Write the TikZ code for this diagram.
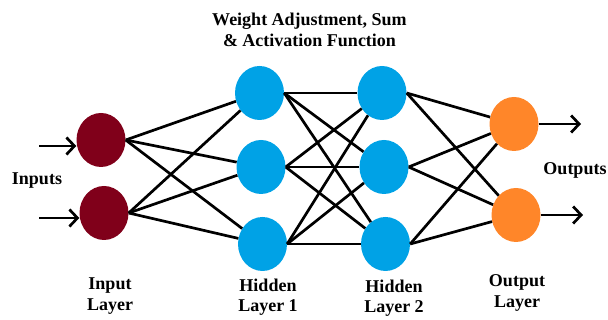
\documentclass[tikz,border=0pt]{standalone}
\usepackage{fontspec}
\setmainfont{Liberation Serif}
\usetikzlibrary{arrows.meta,shapes.geometric}

\definecolor{inred}{RGB}{128,0,26}
\definecolor{hidblue}{RGB}{0,162,230}
\definecolor{outorange}{RGB}{255,134,41}

\tikzset{
  neuron/.style={ellipse, draw=none, inner sep=0pt,
    minimum width=49pt, minimum height=54pt},
  innode/.style={neuron, fill=inred},
  hidnode/.style={neuron, fill=hidblue},
  outnode/.style={neuron, fill=outorange},
  link/.style={line width=2.7pt, black},
  flow/.style={line width=2.7pt, black,
    -{Straight Barb[length=8pt,width=17pt,line width=2.7pt]}},
  caption/.style={font=\bfseries\fontsize{18}{20.5}\selectfont, align=center, inner sep=0pt}
}

\begin{document}
\begin{tikzpicture}[x=1pt,y=-1pt]
  \useasboundingbox (0,0) rectangle (608,320);

  % neurons
  \node[innode]  (i1) at (101,140) {};
  \node[innode]  (i2) at (104,213) {};
  \node[hidnode] (h1) at (259.5,93) {};
  \node[hidnode] (h2) at (261,167) {};
  \node[hidnode] (h3) at (262.5,244) {};
  \node[hidnode] (g1) at (382,93) {};
  \node[hidnode] (g2) at (384,167) {};
  \node[hidnode] (g3) at (385.5,244) {};
  \node[outnode] (o1) at (514,124) {};
  \node[outnode] (o2) at (516,215) {};

  % fully connected layers
  \foreach \s in {i1,i2}
    \foreach \t in {h1,h2,h3}
      \draw[link] (\s.east) -- (\t);
  \foreach \s in {h1,h2,h3}
    \foreach \t in {g1,g2,g3}
      \draw[link] (\s.east) -- (\t);
  \foreach \s in {g1,g2,g3}
    \foreach \t in {o1,o2}
      \draw[link] (\s.east) -- (\t);

  % input and output arrows
  \coordinate (ia1) at (39,146);
  \coordinate (ia2) at (39,218);
  \coordinate (oa1) at (581,124);
  \coordinate (oa2) at (583,215);
  \draw[flow] (ia1) -- (ia1 -| i1.west);
  \draw[flow] (ia2) -- (ia2 -| i2.west);
  \draw[flow] (o1.east) -- (oa1);
  \draw[flow] (o2.east) -- (oa2);

  % labels
  \node[caption] (title) at (309.5,30) {Weight Adjustment, Sum\\\& Activation Function};
  \node[caption, anchor=base] (lin) at (37,185) {Inputs};
  \node[caption, anchor=base] (lout) at (575,175) {Outputs};
  \node[caption] (l1) at (110,296) {Input\\Layer};
  \node[caption] (l2) at (268,297) {Hidden\\Layer 1};
  \node[caption] (l3) at (394,298) {Hidden\\Layer 2};
  \node[caption] (l4) at (517,293) {Output\\Layer};
\end{tikzpicture}
\end{document}
